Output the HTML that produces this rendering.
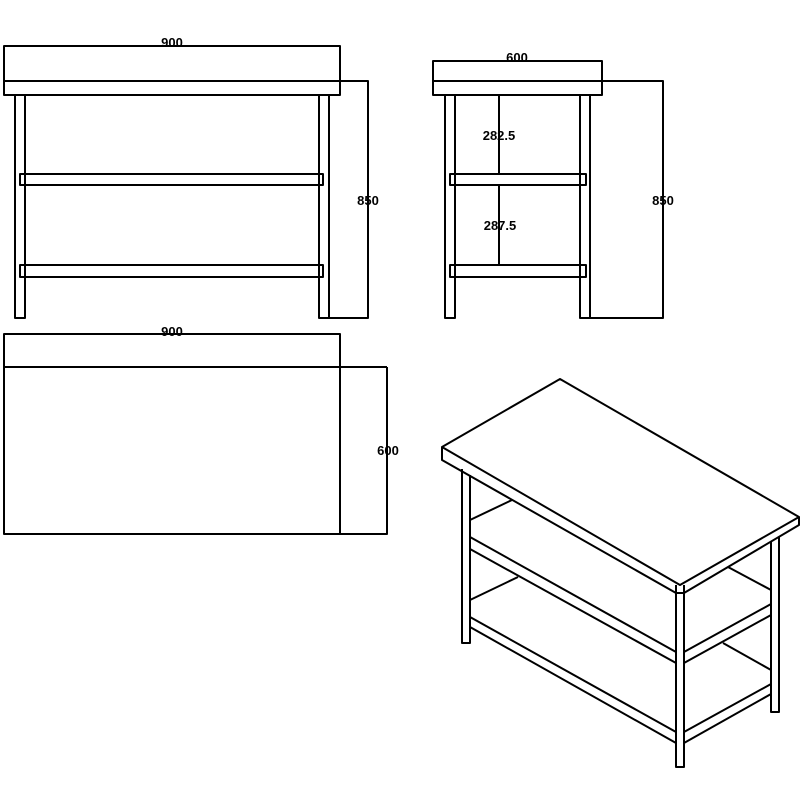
<!DOCTYPE html>
<html><head><style>body{margin:0;background:#fff}svg{display:block}</style></head><body>
<svg width="800" height="800" viewBox="0 0 800 800" xmlns="http://www.w3.org/2000/svg">
<g fill="none" stroke="#000" stroke-width="2" stroke-linejoin="round">
<rect x="4" y="46" width="336" height="49"/>
<line x1="4" y1="81" x2="340" y2="81"/>
<rect x="15" y="95" width="10" height="223"/>
<rect x="319" y="95" width="10" height="223"/>
<rect x="20" y="174" width="303" height="11"/>
<rect x="20" y="265" width="303" height="12"/>
<polyline points="340,81 368,81 368,318 329,318"/>
<rect x="433" y="61" width="169" height="34"/>
<line x1="433" y1="81" x2="602" y2="81"/>
<rect x="445" y="95" width="10" height="223"/>
<rect x="580" y="95" width="10" height="223"/>
<rect x="450" y="174" width="136" height="11"/>
<rect x="450" y="265" width="136" height="12"/>
<line x1="499" y1="95" x2="499" y2="174"/>
<line x1="499" y1="185" x2="499" y2="265"/>
<polyline points="602,81 663,81 663,318 590,318"/>
<rect x="4" y="334" width="336" height="200"/>
<line x1="4" y1="367" x2="387" y2="367"/>
<polyline points="340,534 387,534 387,367"/>
<polygon points="560,379 442,447 680,585 799,517"/>
<polyline points="442,447 442,460 676,593 684,593 684,585"/>
<polyline points="684,593 799,525 799,517"/>
<line x1="676" y1="593" x2="676" y2="585"/>
<polyline points="462,469 462,643 470,643 470,475"/>
<polyline points="676,593 676,767 684,767 684,593"/>
<polyline points="771,542 771,712 779,712 779,537"/>
<polyline points="470,537 676,652"/>
<polyline points="470,549 676,663"/>
<polyline points="684,652 771,604"/>
<polyline points="684,663 771,615"/>
<line x1="470" y1="520" x2="512" y2="500"/>
<line x1="728" y1="567" x2="771" y2="590"/>
<polyline points="470,617 676,732"/>
<polyline points="470,627 676,743"/>
<polyline points="684,732 771,684"/>
<polyline points="684,743 771,694"/>
<line x1="470" y1="600" x2="518" y2="577"/>
<line x1="723" y1="643" x2="771" y2="670"/>
</g>
<g font-family="Liberation Sans, sans-serif" font-weight="bold" font-size="13" text-anchor="middle" fill="#000">
<text x="172" y="47">900</text>
<text x="368" y="205">850</text>
<text x="517" y="62">600</text>
<text x="499" y="140">282.5</text>
<text x="500" y="230">287.5</text>
<text x="663" y="205">850</text>
<text x="172" y="336">900</text>
<text x="388" y="455">600</text>
</g>
</svg>
</body></html>
